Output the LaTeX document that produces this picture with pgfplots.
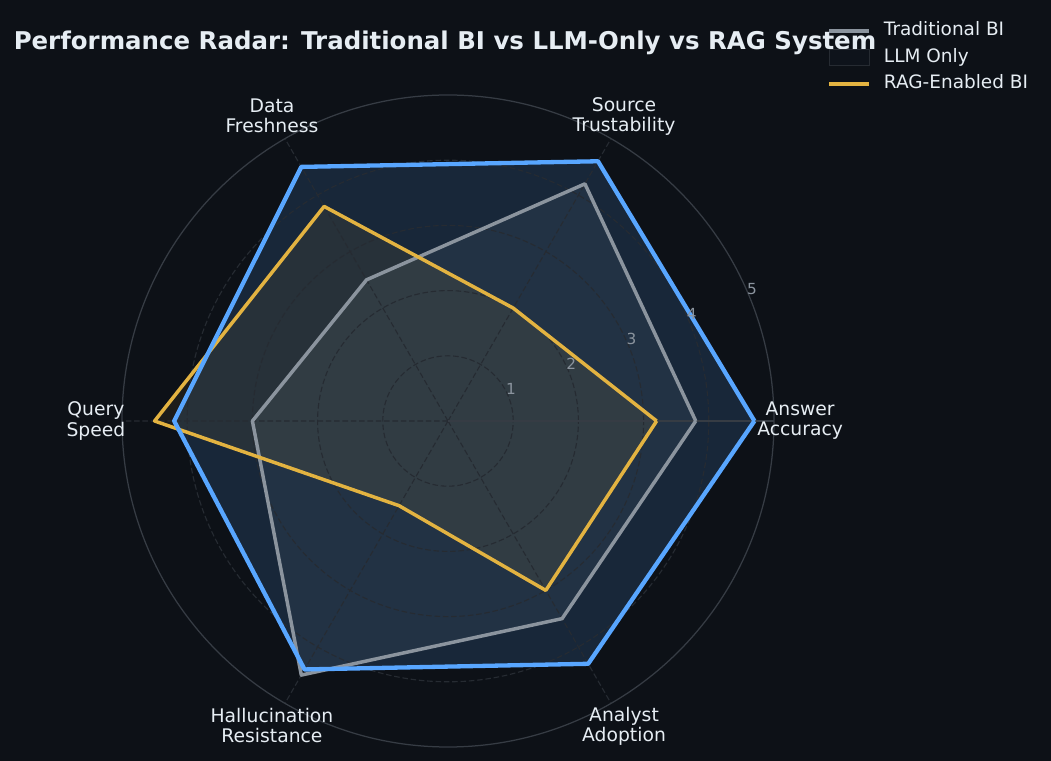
\documentclass[border=0pt]{standalone}
\usepackage{fontspec}
\setmainfont{DejaVu Sans}
\usepackage{pgfplots}
\usepackage{pgfplotstable}
\pgfplotsset{compat=1.18}
\usepgfplotslibrary{polar}
\definecolor{bg}{HTML}{0D1117}
\definecolor{txt}{HTML}{E6EDF3}
\definecolor{tickc}{HTML}{8B949E}
\definecolor{grayc}{HTML}{8B949E}
\definecolor{bluec}{HTML}{58A6FF}
\definecolor{yelc}{HTML}{E3B341}
\definecolor{gridc}{HTML}{262B32}
\definecolor{outerc}{HTML}{363C44}

\pgfplotstableread{
ang trad llm rag
0   3.8 4.7 3.2
60  4.2 4.6 2.0
120 2.5 4.5 3.8
180 3.0 4.2 4.5
240 4.5 4.4 1.5
300 3.5 4.3 3.0
360 3.8 4.7 3.2
}\radardata

\pgfplotsset{radarbase/.style={
  clip=false,
  at={(322.56pt,244.8pt)}, anchor=center,
  width=469.44pt, height=469.44pt, scale only axis,
  ymin=0, ymax=5,
  xtick={0,60,...,300}, xticklabels={},
  ytick={1,2,3,4}, yticklabels={},
  major tick length=0pt,
}}

\begin{document}
\begin{tikzpicture}
\path[use as bounding box, fill=bg] (0,0) rectangle (756.72pt,547.92pt);
\node[anchor=base west, inner sep=0pt, text=txt, font=\fontsize{17.6}{21}\selectfont\bfseries] at (9.7pt,512.6pt) {Performance Radar: Traditional BI vs LLM-Only vs RAG System};
% layer 1: fills + grid on top
\begin{polaraxis}[
  radarbase,
  axis on top,
  grid=major,
  major grid style={draw=gridc, dash pattern=on 4pt off 2pt, line width=0.8pt},
  axis line style={draw=outerc, line width=0.9pt},
  legend style={draw=none, fill=none, text=txt, font=\fontsize{13.3}{15.8}\selectfont,
    at={(axis description cs:1.082,1.117)}, anchor=north west, inner sep=0pt,
    row sep=2.1pt,
    nodes={inner sep=2pt, text height=10pt, text depth=3pt, anchor=west},
    /tikz/every odd column/.append style={column sep=7.2pt}},
  legend cell align=left,
]
\addplot[draw=none, fill=grayc, fill opacity=0.10,
  legend image code/.code={\draw[grayc, line width=2.5pt] (0pt,0pt) -- (28.8pt,0pt);}]
  table[x=ang, y=trad] {\radardata};
\addlegendentry{Traditional BI}
\addplot[draw=none, fill=bluec, fill opacity=0.15,
  legend image code/.code={\draw[draw=gridc, fill=bluec!12!bg, line width=0.6pt] (0pt,-5.5pt) rectangle (28.8pt,6pt);}]
  table[x=ang, y=llm] {\radardata};
\addlegendentry{LLM Only}
\addplot[draw=none, fill=yelc, fill opacity=0.08,
  legend image code/.code={\draw[yelc, line width=2.5pt] (0pt,0pt) -- (28.8pt,0pt);}]
  table[x=ang, y=rag] {\radardata};
\addlegendentry{RAG-Enabled BI}
\end{polaraxis}
% layer 2: lines and labels
\begin{polaraxis}[
  radarbase,
  grid=none,
  axis line style={draw=none},
]
\addplot[draw=grayc, line width=2.5pt, line join=round] table[x=ang, y=trad] {\radardata};
\addplot[draw=yelc, line width=2.5pt, line join=round] table[x=ang, y=rag] {\radardata};
\addplot[draw=bluec, line width=3.1pt, line join=round] table[x=ang, y=llm] {\radardata};

\tikzset{lab/.style={text=txt, font=\fontsize{13.5}{14.5}\selectfont, align=center, anchor=center, inner sep=0pt}}
\node[lab] at (axis cs:0,5.4) {Answer\\Accuracy};
\node[lab] at (axis cs:60,5.4) {Source\\Trustability};
\node[lab] at (axis cs:120,5.4) {Data\\Freshness};
\node[lab] at (axis cs:180,5.4) {Query\\Speed};
\node[lab] at (axis cs:240,5.4) {Hallucination\\Resistance};
\node[lab] at (axis cs:300,5.4) {Analyst\\Adoption};

\tikzset{tl/.style={text=tickc, font=\fontsize{11}{12}\selectfont, anchor=south, inner sep=1pt, xshift=2pt}}
\node[tl] at (axis cs:22.5,1) {1};
\node[tl] at (axis cs:22.5,2) {2};
\node[tl] at (axis cs:22.5,3) {3};
\node[tl] at (axis cs:22.5,4) {4};
\node[tl] at (axis cs:22.5,5) {5};
\end{polaraxis}
\end{tikzpicture}
\end{document}
